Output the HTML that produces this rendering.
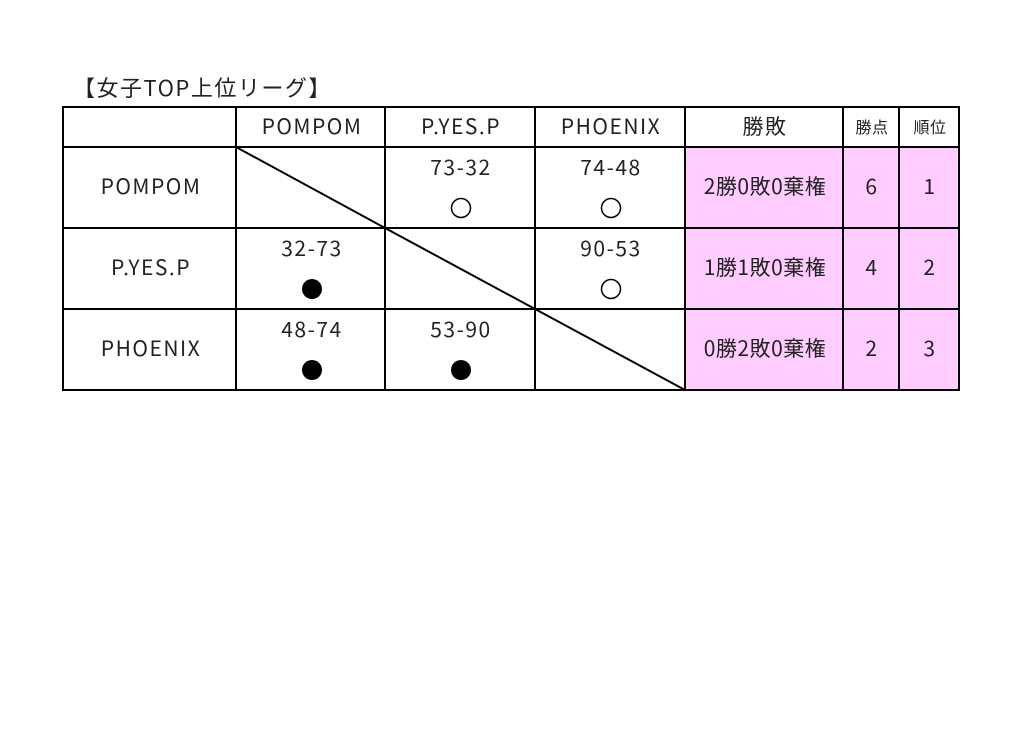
<!DOCTYPE html>
<html><head><meta charset="utf-8"><style>
body{margin:0;background:#fff;width:1024px;height:724px;overflow:hidden}
svg text{font-family:"Noto Sans CJK JP","Liberation Sans",sans-serif;fill:#222}
</style></head><body>
<svg width="1024" height="724" xmlns="http://www.w3.org/2000/svg">
<text x="73" y="96" font-size="22" letter-spacing="1.5">【女子TOP上位リーグ】</text>
<rect x="685" y="147" width="274" height="243" fill="#ffccff"/>
<g stroke="#000" stroke-width="2" fill="none">
<rect x="63" y="107" width="896" height="283"/>
<line x1="63" y1="147" x2="959" y2="147"/>
<line x1="63" y1="228" x2="959" y2="228"/>
<line x1="63" y1="309" x2="959" y2="309"/>
<line x1="236" y1="107" x2="236" y2="390"/>
<line x1="385" y1="107" x2="385" y2="390"/>
<line x1="535" y1="107" x2="535" y2="390"/>
<line x1="685" y1="107" x2="685" y2="390"/>
<line x1="843" y1="107" x2="843" y2="390"/>
<line x1="899" y1="107" x2="899" y2="390"/>
<line x1="236" y1="147" x2="385" y2="228"/>
<line x1="385" y1="228" x2="535" y2="309"/>
<line x1="535" y1="309" x2="685" y2="390"/>
</g>
<g font-size="21" text-anchor="middle" letter-spacing="1.5" transform="translate(1,0)">
<text x="311" y="134">POMPOM</text>
<text x="460" y="134">P.YES.P</text>
<text x="610" y="134">PHOENIX</text>
<text x="764" y="134">勝敗</text>
<text x="871" y="133" font-size="16" letter-spacing="0.5">勝点</text>
<text x="929" y="133" font-size="16" letter-spacing="0.5">順位</text>
<text x="150" y="194">POMPOM</text>
<text x="150" y="275">P.YES.P</text>
<text x="150" y="356">PHOENIX</text>
<text x="460" y="175">73-32</text>
<text x="610" y="175">74-48</text>
<text x="311" y="256">32-73</text>
<text x="610" y="256">90-53</text>
<text x="311" y="337">48-74</text>
<text x="460" y="337">53-90</text>
<text x="764" y="194" letter-spacing="0.5">2勝0敗0棄権</text>
<text x="764" y="275" letter-spacing="0.5">1勝1敗0棄権</text>
<text x="764" y="356" letter-spacing="0.5">0勝2敗0棄権</text>
<text x="871" y="194">6</text><text x="929" y="194">1</text>
<text x="871" y="275">4</text><text x="929" y="275">2</text>
<text x="871" y="356">2</text><text x="929" y="356">3</text>
</g>
<g stroke="#000" stroke-width="1.5" fill="none">
<circle cx="461" cy="208" r="9.5"/><circle cx="611" cy="208" r="9.5"/><circle cx="611" cy="289" r="9.5"/>
</g>
<g fill="#000">
<circle cx="312" cy="289" r="10"/><circle cx="312" cy="370" r="10"/><circle cx="461" cy="370" r="10"/>
</g>
</svg>
</body></html>
